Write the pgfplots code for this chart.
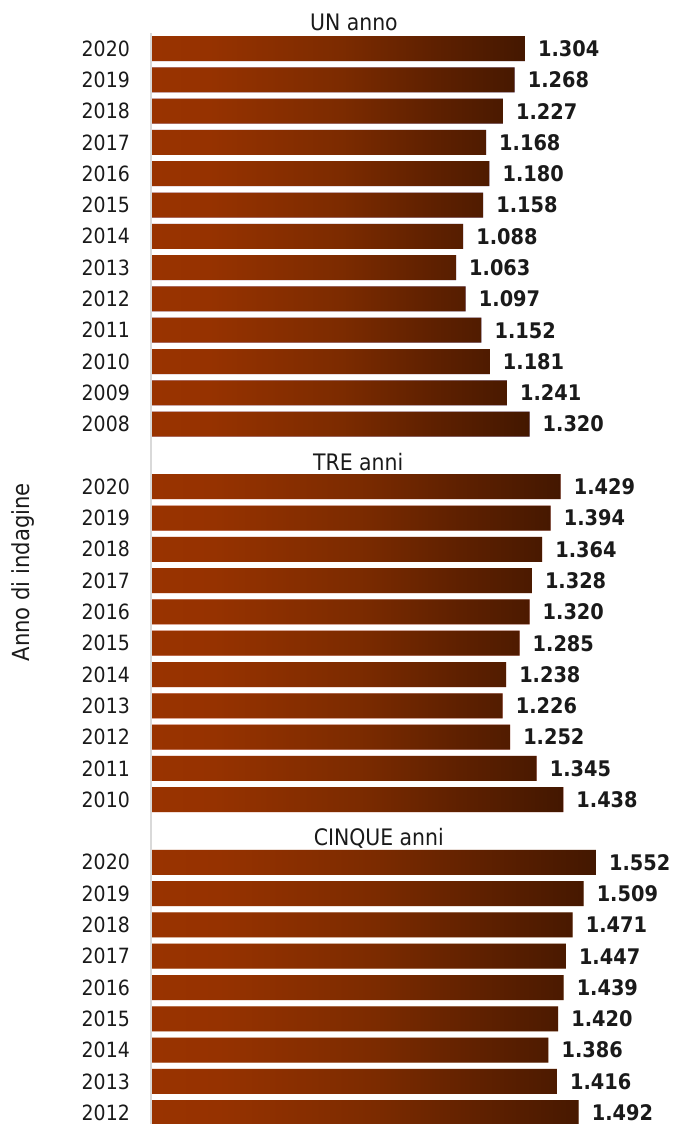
\documentclass[border=0pt]{standalone}
\usepackage{fontspec}
\setmainfont{DejaVu Sans Condensed}
\usepackage{pgfplots}
\usepackage{pgfplotstable}
\pgfplotsset{compat=1.18}

\definecolor{barL}{HTML}{993300}
\definecolor{barA}{HTML}{963200}
\definecolor{barM}{HTML}{7C2B00}
\definecolor{barB}{HTML}{5E2000}
\definecolor{barR}{HTML}{431700}
\definecolor{axisgray}{HTML}{D9D9D9}
\definecolor{txt}{HTML}{1A1A1A}

% left-to-right bar gradient (25bp..75bp is mapped onto each bar)
\pgfdeclarehorizontalshading{barshade}{100bp}{%
  color(0bp)=(barL); color(25bp)=(barL); color(32.5bp)=(barA);
  color(50bp)=(barM); color(62.5bp)=(barB); color(75bp)=(barR);
  color(100bp)=(barR)}

% row position, survey year, value
\pgfplotstableread{
pos anno val
1  2020 1304
2  2019 1268
3  2018 1227
4  2017 1168
5  2016 1180
6  2015 1158
7  2014 1088
8  2013 1063
9  2012 1097
10 2011 1152
11 2010 1181
12 2009 1241
13 2008 1320
}\unanno
\pgfplotstableread{
pos anno val
15 2020 1429
16 2019 1394
17 2018 1364
18 2017 1328
19 2016 1320
20 2015 1285
21 2014 1238
22 2013 1226
23 2012 1252
24 2011 1345
25 2010 1438
}\treanni
\pgfplotstableread{
pos anno val
27 2020 1552
28 2019 1509
29 2018 1471
30 2017 1447
31 2016 1439
32 2015 1420
33 2014 1386
34 2013 1416
35 2012 1492
}\cinqueanni

\begin{document}
\begin{tikzpicture}
\begin{axis}[
  at={(0pt,0pt)}, anchor=south west,
  scale only axis,
  width=522pt, height=1124pt,
  xmin=0, xmax=1825.2,
  ymin=-0.55, ymax=35.36,
  y dir=reverse,
  clip=false,
  axis line style={draw=none},
  major tick length=0pt,
  tick style={draw=none},
  xtick=\empty,
  ytick={1,2,3,4,5,6,7,8,9,10,11,12,13,15,16,17,18,19,20,21,22,23,24,25,27,28,29,30,31,32,33,34,35},
  yticklabels={2020,2019,2018,2017,2016,2015,2014,2013,2012,2011,2010,2009,2008,
               2020,2019,2018,2017,2016,2015,2014,2013,2012,2011,2010,
               2020,2019,2018,2017,2016,2015,2014,2013,2012},
  yticklabel style={anchor=east, inner sep=0pt, xshift=-22pt,
    font=\fontsize{21}{24}\selectfont, text=txt},
  /pgf/number format/assume math mode=true,
  xbar, bar width=25pt, bar shift=0pt,
  point meta=x,
  nodes near coords={\pgfmathprintnumber[fixed, precision=0, 1000 sep={.}, assume math mode=true]{\pgfplotspointmeta}},
  nodes near coords style={anchor=west, inner sep=0pt, xshift=13pt,
    font=\bfseries\fontsize{21.5}{24}\selectfont, text=txt},
  every axis plot/.append style={draw=none, fill=none, shade, shading=barshade},
]
\addplot table[x=val, y=pos] {\unanno};
\addplot table[x=val, y=pos] {\treanni};
\addplot table[x=val, y=pos] {\cinqueanni};

% vertical category axis line
\draw[axisgray, line width=2pt] ([xshift=-1pt]axis cs:0,0.5) -- ([xshift=-1pt]axis cs:0,35.4);

% group headings
\node[anchor=base, inner sep=0pt, text=txt, font=\fontsize{22.7}{26}\selectfont] at (axis cs:706,0.43) {UN anno};
\node[anchor=base, inner sep=0pt, text=txt, font=\fontsize{22.7}{26}\selectfont] at (axis cs:721,14.47) {TRE anni};
\node[anchor=base, inner sep=0pt, text=txt, font=\fontsize{22.7}{26}\selectfont] at (axis cs:793,26.47) {CINQUE anni};

% axis title
\node[rotate=90, anchor=center, inner sep=0pt, text=txt, font=\fontsize{23.5}{27}\selectfont] at (axis cs:-451,17.73) {Anno di indagine};
\end{axis}
\pgfresetboundingbox
\path[use as bounding box] (-152pt,0pt) rectangle (522pt,1124pt);
\end{tikzpicture}
\end{document}
